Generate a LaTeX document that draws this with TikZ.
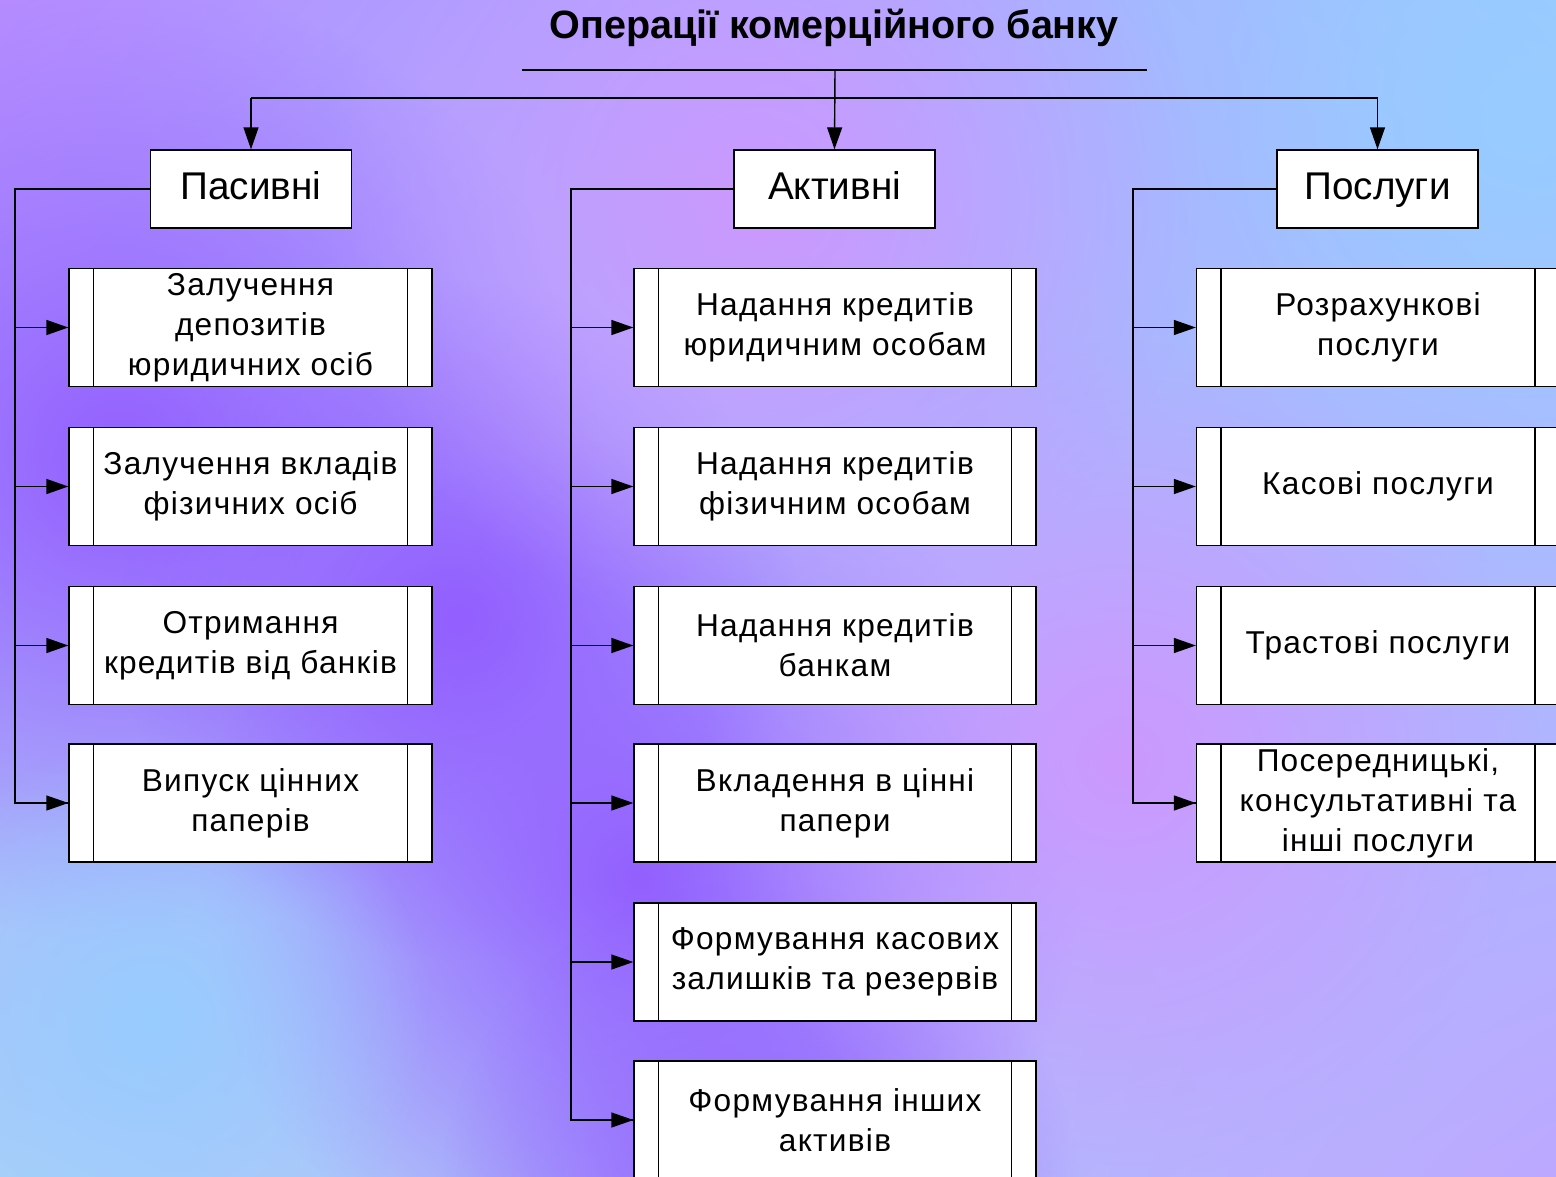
\documentclass[tikz,border=0pt]{standalone}
\usepackage{fontspec}
\setmainfont{Liberation Sans}
\newfontfamily\boxfont[LetterSpace=4]{Liberation Sans}
\usepackage{tikz}
\usetikzlibrary{positioning}
\usetikzlibrary{arrows.meta}
\usetikzlibrary{shadings}
\usetikzlibrary{fadings}
\tikzfading[name=blob, inner color=transparent!0, outer color=transparent!100]
\definecolor{bgTL}{HTML}{B68CFF}
\definecolor{bgTR}{HTML}{9CCAFF}
\definecolor{bgBL}{HTML}{AAD0F8}
\definecolor{bgBR}{HTML}{BCA8FF}
\definecolor{deepViolet}{HTML}{935FFF}
\definecolor{paleViolet}{HTML}{CC98FF}
\definecolor{skyBlue}{HTML}{98CCFF}
\tikzset{
    conn/.style = {draw, line width=0.8pt},
    arr/.style = {conn, -{Triangle[length=0.44cm, width=0.3cm]}},
    headbox/.style = {rectangle, draw, fill=white, line width=0.8pt,
        minimum width=4.02cm, minimum height=1.56cm,
        text height=16pt, text depth=4pt,
        font=\fontsize{22}{26}\selectfont},
    procbox/.style = {rectangle, draw, fill=white, line width=0.8pt,
        minimum height=2.36cm, align=center, inner sep=0pt,
        font=\boxfont\fontsize{18}{22.8}\selectfont,
        path picture={
            \draw[line width=0.8pt] ([xshift=0.49cm]path picture bounding box.north west)
                -- ([xshift=0.49cm]path picture bounding box.south west);
            \draw[line width=0.8pt] ([xshift=-0.49cm]path picture bounding box.north east)
                -- ([xshift=-0.49cm]path picture bounding box.south east);}},
    leftbox/.style = {procbox, minimum width=7.26cm},
    midbox/.style = {procbox, minimum width=8.04cm}}

\begin{document}
\begin{tikzpicture}[x=0.02cm, y=-0.02cm]
        \useasboundingbox (0,0) rectangle (1556,1177);
        \clip (0,0) rectangle (1556,1177);
        % background
        \shade[upper left=bgTL, upper right=bgTR, lower left=bgBL, lower right=bgBR]
            (0,0) rectangle (1556,1177);
        \fill[deepViolet, path fading=blob] (120,460) circle (480);
        \fill[deepViolet, path fading=blob] (460,620) circle (340);
        \fill[deepViolet, path fading=blob] (640,880) circle (440);
        \fill[deepViolet, path fading=blob] (760,1200) circle (320);
        \fill[paleViolet, path fading=blob] (760,200) circle (440);
        \fill[paleViolet, path fading=blob] (1120,760) circle (420);
        \fill[skyBlue, path fading=blob] (150,1020) circle (280);
        \fill[skyBlue, path fading=blob] (1520,120) circle (320);

        % title
        \path (834,28) node[font=\fontsize{22.5}{26}\selectfont\bfseries] (title) {Операції комерційного банку};
        \coordinate (tlA) at (522,70);
        \coordinate (tlB) at (1147,70);
        \coordinate (tlC) at (835,70);
        \draw[conn] (tlA) -- (tlB);

        % headers
        \path (251,189) node[headbox] (pas) {Пасивні}
        + (583.5,0) node[headbox] (akt) {Активні}
        + (1126.5,0) node[headbox] (pos) {Послуги};
        \coordinate (brL) at (251,98);
        \coordinate (brR) at (1377.5,98);
        \draw[conn] (brL) -- (brR);
        \draw[arr] (tlC) -- (akt.north);
        \draw[arr] (brL) -- (pas.north);
        \draw[arr] (brR) -- (pos.north);

        % passive
        \path (250.5,327.5) node[leftbox] (p1) {Залучення\\депозитів\\юридичних осіб}
        ++ (0,159) node[leftbox] (p2) {Залучення вкладів\\фізичних осіб}
        ++ (0,159) node[leftbox] (p3) {Отримання\\кредитів від банків}
        ++ (0,157.5) node[leftbox] (p4) {Випуск цінних\\паперів};
        \coordinate (pasT) at (15,189);
        \draw[conn] (pas.west) -- (pasT) |- (p4.west);
        \draw[arr] (pasT |- p1.west) -- (p1.west);
        \draw[arr] (pasT |- p2.west) -- (p2.west);
        \draw[arr] (pasT |- p3.west) -- (p3.west);
        \draw[arr] (pasT |- p4.west) -- (p4.west);

        % active
        \path (835,327.5) node[midbox] (a1) {Надання кредитів\\юридичним особам}
        ++ (0,159) node[midbox] (a2) {Надання кредитів\\фізичним особам}
        ++ (0,159) node[midbox] (a3) {Надання кредитів\\банкам}
        ++ (0,157.5) node[midbox] (a4) {Вкладення в цінні\\папери}
        ++ (0,159) node[midbox] (a5) {Формування касових\\залишків та резервів}
        ++ (0,158) node[midbox] (a6) {Формування інших\\активів};
        \coordinate (aktT) at (571,189);
        \draw[conn] (akt.west) -- (aktT) |- (a6.west);
        \draw[arr] (aktT |- a1.west) -- (a1.west);
        \draw[arr] (aktT |- a2.west) -- (a2.west);
        \draw[arr] (aktT |- a3.west) -- (a3.west);
        \draw[arr] (aktT |- a4.west) -- (a4.west);
        \draw[arr] (aktT |- a5.west) -- (a5.west);
        \draw[arr] (aktT |- a6.west) -- (a6.west);

        % services
        \path (1378,327.5) node[leftbox] (s1) {Розрахункові\\послуги}
        ++ (0,159) node[leftbox] (s2) {Касові послуги}
        ++ (0,159) node[leftbox] (s3) {Трастові послуги}
        ++ (0,157.5) node[leftbox] (s4) {Посередницькі,\\консультативні та\\інші послуги};
        \coordinate (posT) at (1133,189);
        \draw[conn] (pos.west) -- (posT) |- (s4.west);
        \draw[arr] (posT |- s1.west) -- (s1.west);
        \draw[arr] (posT |- s2.west) -- (s2.west);
        \draw[arr] (posT |- s3.west) -- (s3.west);
        \draw[arr] (posT |- s4.west) -- (s4.west);
\end{tikzpicture}
\end{document}
